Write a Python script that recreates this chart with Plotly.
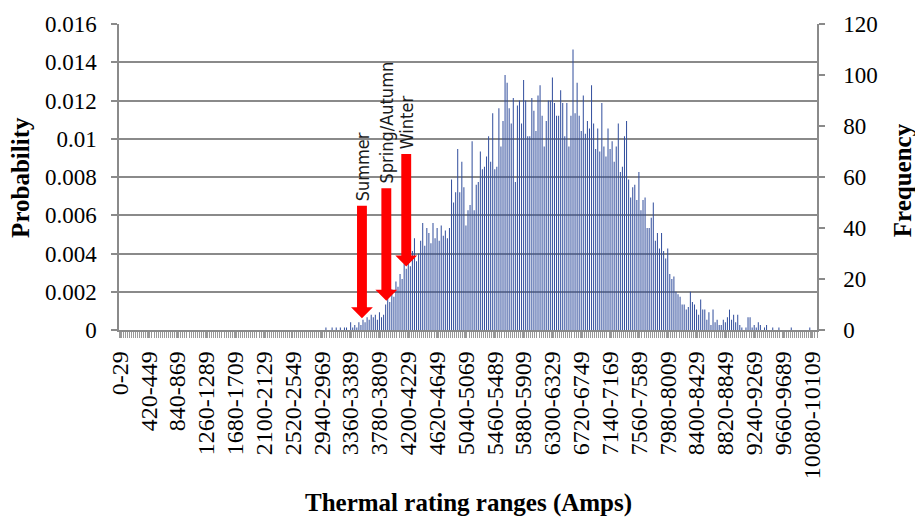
import plotly.graph_objects as go

# Histogram of thermal ratings, 30 A wide bins
BIN_WIDTH = 30
N_BINS = 339
categories = [f"{i * BIN_WIDTH}-{i * BIN_WIDTH + BIN_WIDTH - 1}" for i in range(N_BINS)]

# Count of occurrences in each bin (bins 0..338)
frequency = [
    0, 0, 0, 0, 0, 0, 0, 0, 0, 0, 0, 0, 0, 0, 0, 0, 0, 0, 0, 0,
    0, 0, 0, 0, 0, 0, 0, 0, 0, 0, 0, 0, 0, 0, 0, 0, 0, 0, 0, 0,
    0, 0, 0, 0, 0, 0, 0, 0, 0, 0, 0, 0, 0, 0, 0, 0, 0, 0, 0, 0,
    0, 0, 0, 0, 0, 0, 0, 0, 0, 0, 0, 0, 0, 0, 0, 0, 0, 0, 0, 0,
    0, 0, 0, 0, 0, 0, 0, 0, 0, 0, 0, 0, 0, 0, 0, 0, 0, 0, 0, 0,
    1, 0, 0, 1, 0, 1, 0, 1, 0, 1,
    1, 0, 3, 1, 2, 1, 3, 2, 4, 3,
    5, 4, 6, 5, 6, 4, 7, 5, 6, 10,
    14, 11, 16, 13, 19, 17, 22, 20, 26, 24,
    28, 25, 31, 36, 27, 30, 35, 42, 33, 40,
    38, 34, 42, 36, 40, 35, 41, 37, 39, 36,
    40, 59, 50, 54, 71, 54, 66, 56, 41, 47,
    49, 74, 47, 57, 58, 70, 63, 64, 68, 76,
    66, 85, 63, 64, 87, 72, 82, 100, 97, 87,
    81, 91, 58, 88, 90, 81, 98, 90, 76, 76,
    91, 86, 78, 92, 96, 84, 72, 82, 90, 90,
    99, 89, 84, 84, 94, 89, 76, 89, 72, 84,
    110, 85, 97, 84, 78, 92, 77, 82, 79, 96,
    81, 71, 79, 70, 89, 72, 68, 79, 71, 74,
    66, 72, 81, 62, 64, 76, 82, 59, 52, 56,
    57, 51, 62, 47, 51, 52, 40, 40, 44, 50,
    35, 38, 32, 38, 31, 28, 32, 22, 20, 21,
    15, 14, 13, 10, 10, 8, 9, 15, 11, 10,
    8, 6, 12, 8, 8, 4, 7, 2, 8, 3,
    4, 2, 2, 4, 3, 5, 8, 4, 6, 3,
    6, 2, 1, 0, 1, 5, 5, 1, 2, 1,
    3, 2, 0, 1, 2, 0, 0, 1, 0, 0,
    1, 0, 0, 0, 0, 0, 1, 0, 0, 0,
    0, 0, 0, 0, 0, 1, 0, 0, 0,
]

# Probability scale: 120 occurrences correspond to 0.016
TOTAL_COUNT = 7500
probability = [f / TOTAL_COUNT for f in frequency]

# Axis ticks
label_step = 14
prob_ticks = [0, 0.002, 0.004, 0.006, 0.008, 0.01, 0.012, 0.014, 0.016]
prob_labels = ["0", "0.002", "0.004", "0.006", "0.008", "0.01", "0.012", "0.014", "0.016"]
freq_ticks = [0, 20, 40, 60, 80, 100, 120]

# Seasonal ratings marked with arrows (Amps)
seasons = ["Summer", "Spring/Autumn", "Winter"]
season_ratings = [3525, 3880, 4170]

# Arrow geometry in frequency units (top of shaft, tip)
arrow_top = [48.7, 55.6, 69.0]
arrow_tip = [4.6, 11.5, 24.9]

x_idx = list(range(len(categories)))
label_idx = x_idx[::label_step]
label_text = categories[::label_step]

GRID = "#8a8a8a"
SERIF = "Liberation Serif, Times New Roman, serif"

fig = go.Figure()
# probability on the left axis (carries the scale, drawn transparent)
fig.add_trace(go.Scatter(
    x=x_idx, y=probability, yaxis="y", mode="markers",
    marker=dict(opacity=0, size=1), hoverinfo="skip",
))
# frequency bars on the right axis; a hint of alpha keeps each bar one pixel wide
fig.add_trace(go.Bar(
    x=x_idx,
    y=frequency,
    yaxis="y2",
    customdata=categories,
    hovertemplate="%{customdata}: %{y}<extra></extra>",
    marker=dict(color="rgba(48,76,156,0.97)", line=dict(width=0)),
))


def arrow_path(xc, y_top, y_tip, shaft_half=2.4, head_half=5.3, head_len=4.3):
    yb = y_tip + head_len
    pts = [
        (xc - shaft_half, y_top), (xc + shaft_half, y_top), (xc + shaft_half, yb),
        (xc + head_half, yb), (xc, y_tip), (xc - head_half, yb), (xc - shaft_half, yb),
    ]
    return "M " + " L ".join(f"{px},{py}" for px, py in pts) + " Z"


shapes = []
annotations = []
for name, amps, top, tip in zip(seasons, season_ratings, arrow_top, arrow_tip):
    xc = amps / BIN_WIDTH
    shapes.append(dict(
        type="path", xref="x", yref="y2", path=arrow_path(xc, top, tip),
        fillcolor="#FF0000", line=dict(width=0), layer="above",
    ))
    annotations.append(dict(
        x=xc, y=top, xref="x", yref="y2", text=name, showarrow=False,
        textangle=-90, xanchor="center", yanchor="bottom", yshift=3,
        font=dict(family="Liberation Sans Narrow, DejaVu Sans Condensed, Arial Narrow, sans-serif",
                  size=18, color="#1a1a1a"),
    ))

title_font = dict(family=SERIF, size=25, color="black")
annotations += [
    dict(text="<b>Probability</b>", xref="paper", yref="paper", x=-0.142, y=0.5,
         textangle=-90, showarrow=False, xanchor="center", yanchor="middle", font=title_font),
    dict(text="<b>Frequency</b>", xref="paper", yref="paper", x=1.122, y=0.49,
         textangle=-90, showarrow=False, xanchor="center", yanchor="middle", font=title_font),
    dict(text="<b>Thermal rating ranges (Amps)</b>", xref="paper", yref="paper", x=0.5, y=-0.565,
         showarrow=False, xanchor="center", yanchor="middle", font=title_font),
]

tick_font = dict(family=SERIF, size=23, color="black")

fig.update_layout(
    width=915, height=519,
    margin=dict(l=119, r=98, t=17, b=189),
    paper_bgcolor="white", plot_bgcolor="white",
    showlegend=False, bargap=0.5,
    xaxis=dict(
        range=[-0.5, len(categories) - 0.5],
        tickmode="array", tickvals=label_idx, ticktext=label_text,
        tickangle=-90, tickfont=dict(family=SERIF, size=24, color="black"),
        ticks="outside", ticklen=6, tickcolor="#999999", tickwidth=1,
        minor=dict(tickmode="linear", tick0=-0.5, dtick=1, ticks="outside",
                   ticklen=6, tickcolor="#999999", tickwidth=1, showgrid=False),
        showline=True, linecolor=GRID, linewidth=1.5,
        showgrid=False, zeroline=False, ticklabelstandoff=4,
    ),
    yaxis=dict(
        range=[0, 0.016], tickmode="array", tickvals=prob_ticks, ticktext=prob_labels,
        tickfont=tick_font, ticks="outside", ticklen=6, tickcolor=GRID, tickwidth=1.5,
        showline=True, linecolor=GRID, linewidth=1.5,
        showgrid=True, gridcolor=GRID, gridwidth=1.5, zeroline=False,
        ticklabelstandoff=10,
    ),
    yaxis2=dict(
        range=[0, 120], overlaying="y", side="right",
        tickmode="array", tickvals=freq_ticks,
        tickfont=tick_font, ticks="outside", ticklen=6, tickcolor=GRID, tickwidth=1.5,
        showline=True, linecolor=GRID, linewidth=1.5,
        showgrid=False, zeroline=False, ticklabelstandoff=14,
    ),
    shapes=shapes,
    annotations=annotations,
)

fig.write_html("out.html")
